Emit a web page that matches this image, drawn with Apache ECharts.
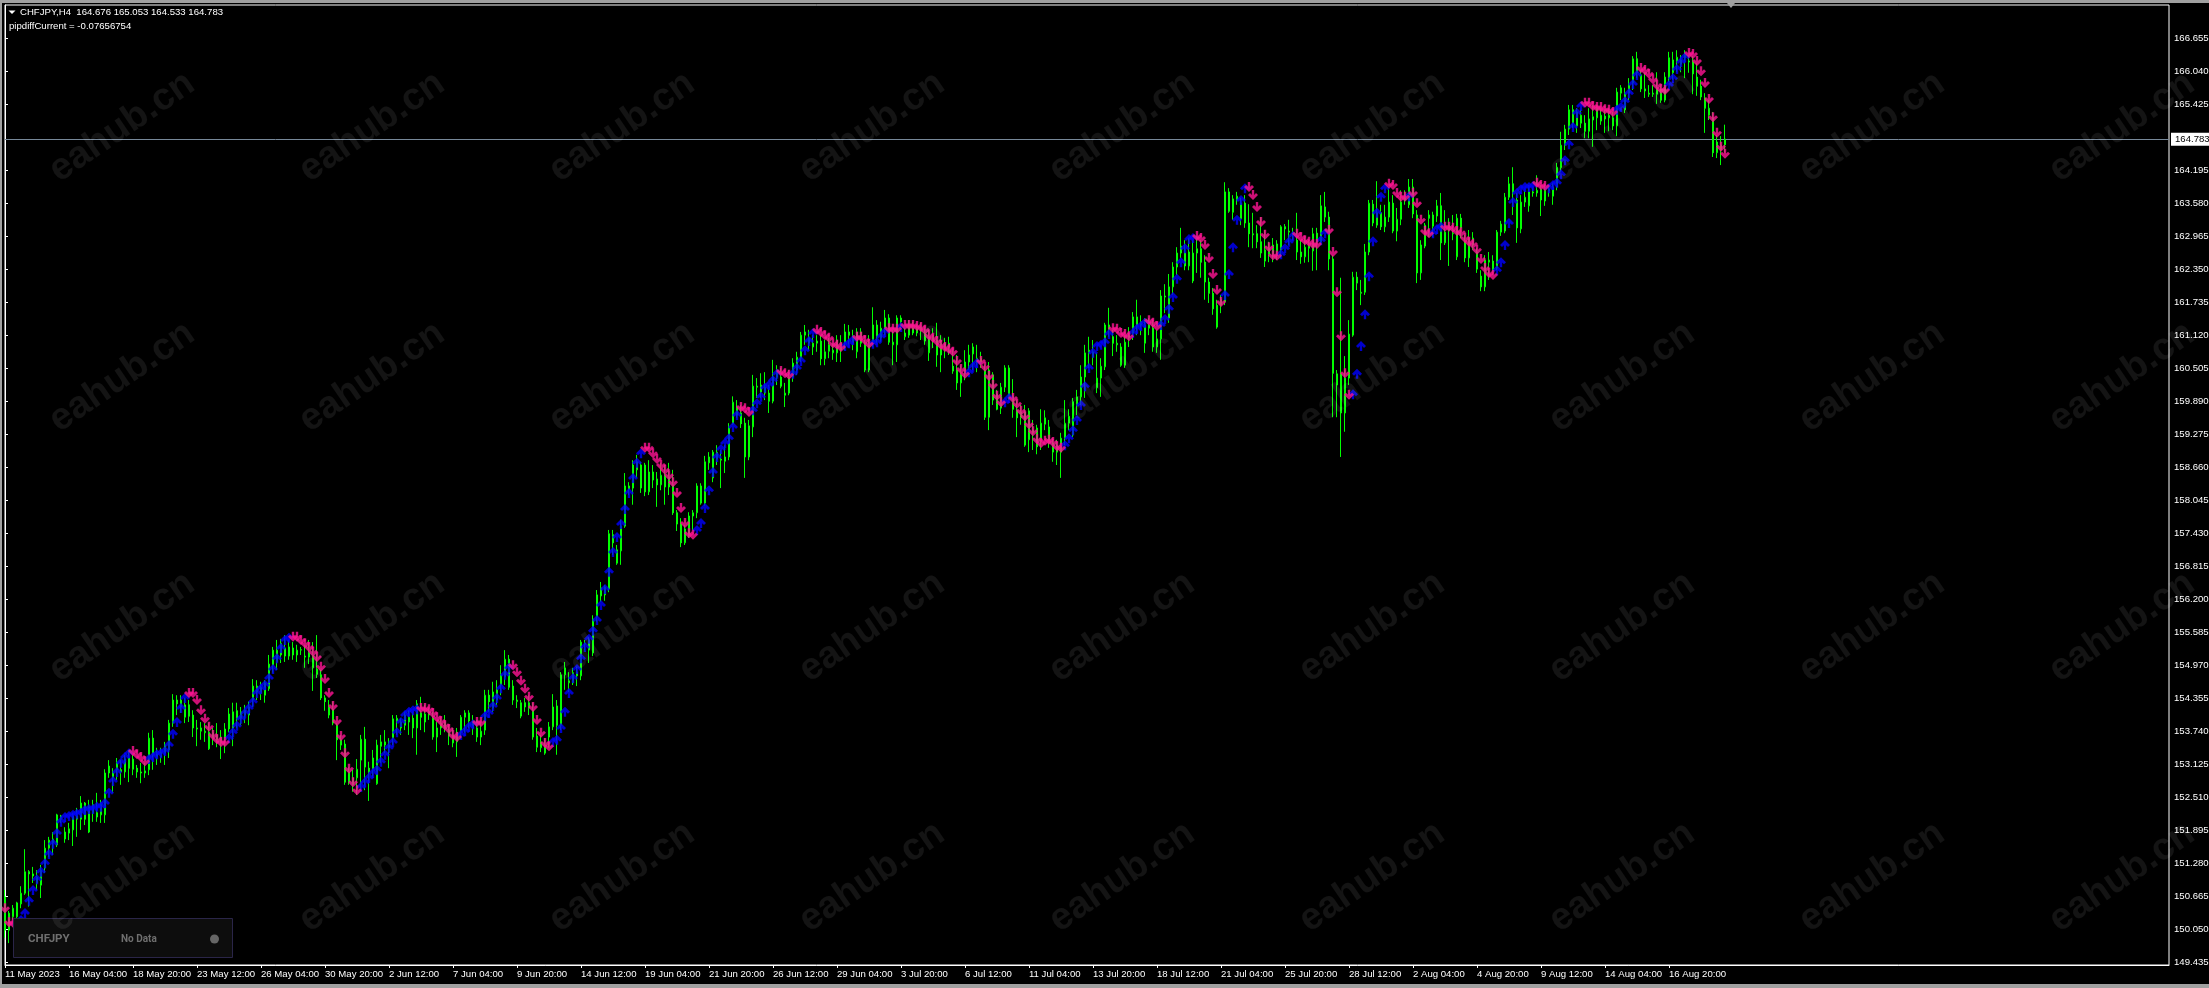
<!DOCTYPE html>
<html><head><meta charset="utf-8"><style>html,body{margin:0;padding:0;background:#000}#c{width:2209px;height:988px}</style>
<script src="https://cdn.jsdelivr.net/npm/echarts@6/dist/echarts.min.js"></script></head><body><div id="c"></div>
<script>
const headerLine = "CHFJPY,H4  164.676 165.053 164.533 164.783";
const indicatorLine = "pipdiffCurrent = -0.07656754";
const currentPrice = 164.783;
const priceTicks = [166.655,166.040,165.425,164.195,163.580,162.965,162.350,161.735,161.120,160.505,159.890,159.275,158.660,158.045,157.430,156.815,156.200,155.585,154.970,154.355,153.740,153.125,152.510,151.895,151.280,150.665,150.050,149.435];
const timeLabels = ["11 May 2023","16 May 04:00","18 May 20:00","23 May 12:00","26 May 04:00","30 May 20:00","2 Jun 12:00","7 Jun 04:00","9 Jun 20:00","14 Jun 12:00","19 Jun 04:00","21 Jun 20:00","26 Jun 12:00","29 Jun 04:00","3 Jul 20:00","6 Jul 12:00","11 Jul 04:00","13 Jul 20:00","18 Jul 12:00","21 Jul 04:00","25 Jul 20:00","28 Jul 12:00","2 Aug 04:00","4 Aug 20:00","9 Aug 12:00","14 Aug 04:00","16 Aug 20:00"];
// rows: open, close, low, high
const barsMay = [
[150.66,150.04,149.90,150.79],[150.04,150.36,149.80,150.40],[150.29,150.45,150.23,150.51],[150.29,150.55,150.18,150.57],[150.53,150.73,150.45,150.86],
[150.73,151.13,150.70,151.55],[151.13,151.09,150.48,151.16],[151.05,151.09,150.92,151.22],[150.92,151.03,150.79,151.16],[150.88,151.16,150.64,151.26],
[151.20,151.57,151.11,151.72],[151.57,151.72,151.40,151.78],[151.67,151.74,151.44,151.87],[151.63,152.19,151.59,152.21],[152.17,152.11,152.04,152.19],
[151.74,151.87,151.67,151.96],[151.85,151.93,151.72,152.04],[151.91,152.17,151.61,152.23],[152.11,152.17,151.78,152.32],[152.11,152.41,151.91,152.54],
[152.41,152.11,152.00,152.43],[151.87,152.34,151.85,152.47],[152.23,152.38,152.06,152.47],[152.23,152.15,152.06,152.60],[152.19,152.39,152.04,152.47],
[152.19,152.97,152.04,153.04],[152.97,153.10,152.88,153.21],[152.97,152.88,152.60,153.06],[153.03,153.16,152.84,153.25],[153.03,152.99,152.75,153.21],
[152.99,153.23,152.88,153.31],[153.25,153.06,152.80,153.40],[153.04,153.23,152.93,153.31],[153.06,152.99,152.88,153.12],[152.99,152.97,152.78,153.16],
[152.97,153.01,152.88,153.16],[153.03,153.62,152.93,153.72],[153.62,153.31,153.03,153.77],[153.27,153.34,153.12,153.44],[153.27,153.36,153.16,153.44],
[153.34,153.49,153.12,153.55],[153.40,153.90,153.25,153.96],[153.90,154.33,153.83,154.44],[154.33,154.26,154.05,154.42],[154.20,154.33,154.09,154.42],
[154.01,154.24,153.90,154.37],[154.24,154.03,153.92,154.33],[154.05,153.81,153.64,154.14],[153.81,153.79,153.47,153.96],[153.75,153.81,153.59,153.92],
[153.72,153.75,153.55,153.90],[153.42,153.73,153.40,153.90],[153.62,153.72,153.49,153.81],[153.59,153.68,153.45,153.90],[153.53,153.64,153.23,153.77],
[153.64,153.79,153.34,153.90],[153.79,154.07,153.73,154.18],[153.81,154.11,153.47,154.28],[154.13,153.99,153.81,154.28],[153.99,154.11,153.86,154.20],
[154.05,154.14,153.90,154.24],[154.05,154.20,153.86,154.30],[154.33,154.59,154.20,154.72],[154.48,154.59,154.33,154.70],[154.46,154.57,154.33,154.67],
[154.42,154.65,154.28,154.70],[154.54,155.00,154.50,155.17],[154.98,155.26,154.84,155.32],[155.04,155.26,154.89,155.45],[155.17,155.39,155.02,155.47],
[155.30,155.15,155.04,155.54],[155.15,155.32,155.08,155.45],[155.30,155.17,155.08,155.41],[155.17,155.26,155.04,155.36],[155.26,155.27,155.17,155.32],
[155.15,155.13,154.93,155.36],[155.13,155.21,155.00,155.45],[154.93,155.17,154.50,155.41],[154.91,154.81,154.74,155.54],[154.80,154.37,154.33,154.89]];
const barsJune = [
[154.37,154.30,154.13,154.42],[154.05,154.20,153.99,154.33],[154.16,153.90,153.86,154.30],[153.86,153.59,153.21,153.90],[153.59,153.49,153.40,153.68],
[153.51,152.80,152.75,153.59],[152.80,152.99,152.75,153.08],[152.75,152.88,152.62,153.03],[152.88,153.04,152.56,153.23],[153.21,153.60,152.65,153.68],
[153.60,153.08,152.65,153.83],[153.06,152.99,152.45,153.18],[153.03,153.25,152.88,153.40],[152.77,153.49,152.75,153.59],[153.55,153.47,153.16,153.68],
[153.49,153.55,153.34,153.77],[153.49,153.45,153.06,153.62],[153.62,153.98,153.49,154.05],[153.94,153.99,153.68,154.05],[153.81,153.92,153.68,153.99],
[153.86,154.05,153.77,154.11],[153.92,154.01,153.68,154.14],[153.99,153.81,153.62,154.11],[153.81,154.26,153.31,154.33],[154.09,154.01,153.77,154.39],
[153.92,154.07,153.73,154.24],[154.05,154.11,153.96,154.18],[153.99,153.64,153.59,154.11],[153.64,153.81,153.36,153.92],[153.81,153.90,153.68,153.99],
[153.81,153.92,153.73,154.05],[153.66,153.77,153.49,153.86],[153.53,153.68,153.45,153.81],[153.55,153.73,153.27,153.81],[153.73,154.01,153.62,154.05],
[154.01,154.09,153.72,154.14],[154.09,153.94,153.81,154.14],[153.81,153.92,153.68,154.05],[153.81,153.64,153.55,153.96],[153.64,153.75,153.49,153.92],
[153.77,154.42,153.68,154.52],[154.42,154.30,154.11,154.52],[154.18,154.48,154.11,154.67],[154.33,154.52,154.24,154.70],[154.61,154.80,154.42,154.98],
[154.76,155.09,154.61,155.26],[155.09,154.57,154.52,155.17],[154.59,154.33,154.24,154.70],[154.30,154.33,154.18,154.42],[154.03,154.28,153.99,154.33],
[154.28,154.20,154.11,154.37],[154.18,154.28,154.05,154.42],[154.14,153.64,153.59,154.28],[153.45,153.66,153.36,153.81],[153.44,153.55,153.36,153.68],
[153.34,153.49,153.31,153.62],[153.64,153.83,153.44,153.92],[153.83,154.20,153.77,154.44],[154.22,153.86,153.31,154.33],[153.86,154.80,153.77,154.85],
[154.80,154.93,154.52,155.04],[154.65,154.69,154.48,154.85],[154.65,154.84,154.61,154.93],[154.78,154.85,154.59,154.95],[154.78,155.41,154.70,155.45],
[155.37,155.39,155.26,155.45],[155.26,155.45,155.02,155.51],[155.84,155.21,155.15,155.91],[155.88,156.29,155.79,156.38],[156.27,156.42,156.16,156.53],
[156.29,156.44,156.18,156.47],[156.40,157.43,156.34,157.50],[157.41,157.26,157.03,157.50],[156.88,157.13,156.85,157.22],[157.11,157.57,156.85,157.69],
[157.57,158.32,157.54,158.56],[158.32,158.26,158.15,158.39],[158.28,158.71,157.97,158.80],[158.62,158.77,158.47,158.90],[158.28,158.71,158.19,158.77],
[158.71,158.21,158.13,158.75],[158.21,158.58,158.15,158.80],[158.58,158.43,158.28,158.71],[158.45,158.34,157.93,158.58],[158.34,158.52,158.24,158.75],
[158.30,158.52,157.97,158.71],[158.30,158.49,158.15,158.75],[158.34,157.82,157.78,158.62],[157.82,157.61,157.48,157.87],[157.61,157.26,157.18,157.72],
[157.26,157.52,157.22,157.59],[157.41,157.76,157.35,157.83],[157.76,157.82,157.50,157.87],[157.82,158.32,157.72,158.37],[158.32,158.00,157.97,158.37],
[158.00,158.77,157.95,158.88],[158.75,158.86,158.62,158.95],[158.47,158.95,158.39,158.99],[158.95,158.82,158.71,159.08],[158.80,158.82,158.28,158.99],
[158.78,158.86,158.56,159.08],[158.86,159.40,158.80,159.49],[159.48,159.88,159.46,159.99],[159.64,159.79,159.59,159.92],[159.68,159.48,159.40,159.83],
[159.49,158.86,158.47,159.59],[158.86,159.44,158.80,159.55],[159.42,160.18,159.23,160.39],[160.16,160.18,159.96,160.33],[160.07,160.20,159.96,160.42]];
const barsJuly = [
[160.05,160.16,159.92,160.44],[160.05,159.90,159.68,160.20],[159.90,160.35,159.86,160.67],[160.35,160.48,160.20,160.57],[160.35,160.18,160.14,160.52],
[160.01,160.05,159.79,160.24],[160.05,160.35,160.01,160.48],[160.35,160.61,160.26,160.70],[160.48,160.72,160.39,160.82],[160.70,161.13,160.63,161.19],
[161.13,161.19,160.95,161.32],[160.98,161.08,160.85,161.23],[160.91,160.98,160.76,161.13],[160.98,161.02,160.82,161.13],[161.02,160.69,160.57,161.13],
[160.69,160.82,160.57,161.04],[160.83,160.95,160.70,161.08],[160.80,160.85,160.67,160.98],[160.80,161.04,160.63,161.13],[160.85,160.98,160.63,161.13],
[160.98,161.19,160.85,161.34],[161.19,161.13,160.95,161.32],[160.98,161.11,160.85,161.23],[160.82,161.19,160.70,161.26],[160.98,161.19,160.91,161.26],
[160.95,160.48,160.44,161.04],[160.48,160.95,160.44,161.13],[160.98,161.32,160.91,161.65],[161.32,161.10,160.98,161.41],[161.08,161.26,161.00,161.38],
[161.26,161.45,161.13,161.60],[161.45,161.00,160.95,161.52],[160.95,161.00,160.57,161.23],[160.95,161.45,160.63,161.50],[161.45,161.38,161.26,161.50],
[161.10,161.17,161.04,161.26],[161.13,161.32,161.08,161.41],[161.17,161.26,161.13,161.38],[161.17,161.25,161.11,161.32],[161.21,161.28,161.04,161.36],
[161.17,161.02,160.95,161.26],[160.80,161.10,160.65,161.23],[161.04,161.13,160.89,161.26],[161.04,160.76,160.54,161.36],[160.76,160.98,160.44,161.13],
[160.85,160.98,160.70,161.08],[160.98,160.91,160.76,161.10],[160.55,160.46,160.41,160.85],[160.48,160.24,160.11,160.76],[160.24,160.39,159.98,160.57],
[160.42,160.63,160.29,160.85],[160.63,160.76,160.48,160.95],[160.78,160.91,160.48,160.98],[160.63,160.70,160.44,160.95],[160.63,160.70,160.52,160.82],
[160.48,159.60,159.55,160.57],[159.60,160.48,159.36,160.63],[160.39,159.92,159.83,160.44],[160.03,159.75,159.73,160.11],[159.77,160.16,159.66,160.24],
[160.16,160.52,160.07,160.57],[160.52,160.00,159.92,160.57],[159.98,159.75,159.59,160.31],[159.73,159.59,159.23,159.92],[159.59,159.70,159.46,159.83],
[159.08,159.70,159.05,159.83],[159.18,159.72,158.95,159.77],[159.31,159.36,158.99,159.55],[159.40,159.05,158.91,159.46],[159.18,159.49,158.99,159.75],
[159.47,159.59,159.36,159.73],[159.42,159.12,159.03,159.55],[158.95,159.12,158.77,159.21],[158.95,159.08,158.71,159.18],[158.95,159.21,158.47,159.31],
[159.21,159.49,159.08,159.92],[159.49,159.62,159.36,159.75],[159.27,159.89,159.23,159.96],[159.83,159.98,159.64,160.11],[159.98,160.35,159.83,160.57],
[160.35,160.80,159.96,160.95],[160.80,160.85,160.52,161.10],[160.72,160.82,160.57,161.04],[160.15,160.33,160.05,160.80],[160.33,160.55,159.98,160.70],
[160.54,161.32,160.48,161.36],[161.32,161.25,161.10,161.64],[161.10,160.98,160.74,161.23],[160.95,160.98,160.82,161.13],[160.91,160.57,160.54,160.98],
[160.57,161.00,160.52,161.13],[161.08,161.13,160.91,161.28],[161.17,161.47,161.04,161.56],[161.47,161.30,161.13,161.79],[161.32,161.38,161.13,161.50],
[160.98,161.32,160.80,161.45],[161.26,161.32,161.13,161.45],[161.26,160.91,160.82,161.41],[160.91,161.06,160.80,161.23],[161.06,161.86,160.67,161.97],
[161.84,161.86,161.54,162.08],[161.45,162.03,161.36,162.27],[162.03,162.40,161.88,162.49],[162.40,162.66,162.25,162.77],[162.66,162.79,162.57,163.13],
[162.66,162.42,162.34,162.90],[162.42,162.68,162.34,162.94],[162.14,162.66,162.10,162.90],[162.66,162.74,162.29,162.98],[162.74,162.49,162.20,162.90]];
const barsLateJuly = [
[162.49,162.12,161.79,162.62],[162.12,161.91,161.73,162.20],[161.91,161.62,161.51,162.01],[161.28,161.69,161.25,161.79],[161.69,161.79,161.54,161.88],
[161.75,163.80,161.69,163.98],[163.80,163.44,163.41,163.87],[163.42,163.67,163.28,163.74],[163.65,163.72,163.56,163.80],[163.30,163.59,163.18,163.69],
[163.59,163.22,163.13,163.74],[163.22,163.02,162.77,163.57],[163.00,163.02,162.75,163.41],[163.02,162.87,162.75,163.18],[162.87,162.66,162.57,163.33],
[162.51,162.72,162.40,163.09],[162.64,162.75,162.49,162.87],[162.64,162.81,162.49,162.94],[162.70,162.83,162.53,162.90],[162.72,163.15,162.57,163.18],
[163.15,163.11,162.90,163.20],[163.05,163.07,162.81,163.28],[163.03,163.03,162.90,163.13],[162.90,162.68,162.53,163.41],[162.68,162.59,162.46,162.90],
[162.59,162.77,162.48,162.94],[162.75,162.79,162.49,162.90],[162.70,163.02,162.33,163.13],[163.03,162.87,162.34,163.13],[162.87,163.54,162.81,163.74],
[163.52,163.33,163.24,163.80],[163.33,162.55,162.34,163.43],[162.55,160.42,159.60,162.62],[160.20,160.41,159.60,160.48],[160.41,159.68,158.86,162.20],
[159.68,160.33,159.33,160.74],[160.33,161.15,160.20,161.41],[161.13,162.21,161.10,162.31],[162.21,162.10,161.97,162.31],[161.91,161.93,161.69,162.16],
[161.93,162.68,161.88,162.83],[162.68,163.59,162.62,163.65],[163.57,163.22,163.16,163.65],[163.18,163.41,163.13,164.00],[163.41,163.15,163.09,163.56],
[163.15,163.33,163.05,163.56],[163.33,163.61,163.24,163.89],[163.59,163.07,163.03,163.74],[163.07,163.29,162.88,163.50],[163.29,163.61,163.18,163.83],
[163.65,163.71,163.56,163.83],[163.56,163.89,163.50,164.04],[163.89,163.39,163.31,164.04],[163.37,162.29,162.10,163.46],[162.29,162.81,162.16,162.90],
[162.79,163.18,162.75,163.22],[163.37,163.31,162.96,163.46],[163.16,163.37,162.96,163.43],[163.35,163.54,163.24,163.65],[163.54,162.85,162.53,163.78],
[162.85,163.05,162.81,163.46],[163.09,163.18,162.42,163.31],[163.02,163.03,162.90,163.37],[162.59,163.31,162.53,163.39],[163.31,163.13,162.94,163.39],
[162.87,162.57,162.49,163.00],[162.57,162.94,162.40,163.09],[162.81,162.94,162.72,163.05],[162.36,162.68,162.29,162.75],[162.23,162.03,161.95,162.34],
[162.03,162.53,161.95,162.62],[162.49,162.53,162.16,162.68],[162.51,162.34,162.25,162.62],[162.38,163.05,162.34,163.09],[163.05,163.20,162.98,163.26],
[163.07,163.70,163.03,163.78],[163.70,163.95,163.65,164.08],[163.95,163.80,163.37,164.26],[163.65,163.13,162.85,163.78],[163.11,163.61,163.03,163.74],
[163.61,163.70,163.52,163.83],[163.54,163.80,163.43,163.93],[163.78,163.80,163.71,163.87],[163.78,163.83,163.71,164.11],[163.85,163.65,163.35,163.93],
[163.63,163.83,163.54,163.93],[163.82,163.85,163.71,163.89],[163.72,163.89,163.56,163.97],[163.89,164.26,163.83,164.34],[164.25,164.67,164.17,164.92],
[164.67,164.97,164.58,165.05],[164.97,165.33,164.86,165.42],[165.33,165.08,164.99,165.42],[165.03,165.29,164.90,165.36],[165.08,165.23,164.99,165.33],
[165.08,164.93,164.80,165.23],[164.93,165.16,164.80,165.36],[165.14,165.20,164.64,165.42],[165.18,165.36,164.95,165.42],[165.12,165.23,165.05,165.36],
[165.21,165.16,164.90,165.33],[165.18,165.23,164.93,165.36],[165.18,165.03,164.95,165.29],[165.03,165.66,164.84,165.74],[165.64,165.74,165.51,165.79],
[165.33,165.64,165.27,165.74],[165.64,165.79,165.51,165.92],[165.83,166.28,165.70,166.33],[166.28,166.02,165.92,166.41],[165.98,165.72,165.66,166.07],
[165.68,165.72,165.55,166.03],[165.62,165.64,165.57,165.79],[165.62,165.64,165.57,165.79],[165.62,165.74,165.44,166.03],[165.64,165.51,165.46,165.79],
[165.51,165.94,165.47,166.03],[165.92,166.30,165.85,166.41],[166.02,166.26,165.89,166.41],[166.24,166.31,166.03,166.44],[166.18,166.26,166.03,166.35],
[166.30,166.35,165.92,166.44],[166.22,166.24,166.02,166.35],[166.22,166.00,165.62,166.33],[165.94,165.77,165.59,166.20],[165.77,165.57,165.51,165.89],
[165.55,165.36,164.90,165.64],[165.23,165.36,165.14,165.51],[165.18,164.53,164.45,165.29],[164.53,164.73,164.43,164.86],[164.58,164.67,164.30,164.84],
[164.676,164.783,164.533,165.053]];
const trailLevels = [
150.45,150.19,150.18,150.14,150.23,150.36,150.59,150.79,150.99,151.13,
151.29,151.46,151.65,151.85,152.06,152.15,152.17,152.19,152.21,152.23,
152.28,152.30,152.30,152.34,152.34,152.41,152.60,152.82,152.99,153.16,
153.27,153.34,153.38,153.32,153.27,153.19,153.23,153.27,153.32,153.34,
153.38,153.49,153.70,153.92,154.18,154.37,154.46,154.46,154.33,154.14,
153.98,153.83,153.68,153.60,153.55,153.55,153.62,153.73,153.85,153.98,
154.09,154.18,154.30,154.46,154.54,154.61,154.74,154.91,155.11,155.30,
155.45,155.49,155.51,155.51,155.45,155.39,155.32,155.23,155.13,154.95,
154.72,154.46,154.22,153.94,153.66,153.34,153.05,152.80,152.65,152.71,
152.80,152.88,152.97,153.03,153.18,153.31,153.44,153.55,153.73,153.92,
154.05,154.11,154.14,154.16,154.18,154.18,154.16,154.09,154.01,153.94,
153.86,153.79,153.68,153.64,153.68,153.75,153.83,153.88,153.92,153.92,
154.03,154.09,154.22,154.37,154.55,154.80,154.93,154.98,154.85,154.69,
154.54,154.39,154.20,153.96,153.72,153.53,153.47,153.55,153.59,153.81,
154.11,154.46,154.74,154.91,155.11,155.32,155.47,155.62,155.82,156.10,
156.40,156.72,157.09,157.37,157.61,157.89,158.19,158.47,158.75,158.93,
159.03,159.03,158.93,158.82,158.71,158.62,158.52,158.39,158.19,157.91,
157.63,157.44,157.41,157.50,157.63,157.91,158.24,158.58,158.86,159.01,
159.12,159.21,159.42,159.64,159.79,159.77,159.70,159.73,159.86,159.98,
160.15,160.20,160.29,160.41,160.46,160.42,160.39,160.41,160.52,160.65,
160.85,161.02,161.17,161.23,161.19,161.13,161.08,160.98,160.95,160.91,
160.93,160.98,161.04,161.10,161.10,161.04,160.97,160.97,161.00,161.10,
161.19,161.26,161.25,161.25,161.28,161.32,161.32,161.32,161.30,161.28,
161.23,161.13,161.08,161.02,160.95,160.91,160.87,160.82,160.65,160.50,
160.41,160.44,160.54,160.61,160.65,160.54,160.37,160.20,160.00,159.88,
159.88,159.96,159.96,159.85,159.72,159.62,159.47,159.34,159.19,159.12,
159.16,159.18,159.14,159.06,159.03,159.08,159.21,159.36,159.55,159.83,
160.18,160.52,160.80,160.93,160.95,161.00,161.15,161.26,161.25,161.17,
161.15,161.11,161.17,161.25,161.30,161.36,161.41,161.36,161.30,161.32,
161.43,161.62,161.84,162.18,162.49,162.75,162.92,162.94,162.98,162.94,
162.81,162.57,162.27,161.97,161.75,161.88,162.27,162.77,163.28,163.65,
163.87,163.89,163.74,163.52,163.24,163.00,162.77,162.62,162.61,162.64,
162.75,162.87,162.98,163.02,162.96,162.90,162.87,162.83,162.83,162.90,
163.03,163.09,162.68,161.93,161.11,160.42,160.02,160.03,160.41,160.93,
161.52,162.23,162.88,163.41,163.71,163.87,163.95,163.93,163.78,163.71,
163.71,163.72,163.78,163.59,163.28,163.07,163.03,163.03,163.11,163.15,
163.15,163.15,163.13,163.07,163.05,162.94,162.87,162.83,162.72,162.55,
162.38,162.29,162.25,162.34,162.49,162.81,163.22,163.61,163.78,163.85,
163.89,163.89,163.91,163.97,163.93,163.91,163.87,163.93,163.97,164.13,
164.39,164.69,165.01,165.27,165.40,165.46,165.46,165.40,165.38,165.38,
165.34,165.33,165.29,165.33,165.38,165.49,165.64,165.81,165.98,166.11,
166.07,166.00,165.90,165.79,165.72,165.70,165.79,165.92,166.09,166.22,
166.31,166.39,166.37,166.24,166.05,165.83,165.53,165.19,164.90,164.64,
164.51];
// bar ranges where the trail arrow points down (all other bars point up)
const downRuns = [[0,2],[32,35],[46,55],[72,88],[104,113],[118,119],[127,136],[160,172],[184,186],[194,196],[203,209],[213,216],[221,223],[225,240],[244,249],[252,264],[277,281],[286,288],[298,304],[311,318],[323,328],[331,336],[346,350],[352,356],[360,372],[383,385],[395,402],[409,415],[421,430]];

const bars = [...barsMay, ...barsJune, ...barsJuly, ...barsLateJuly];
const isDown = i => downRuns.some(r => i >= r[0] && i <= r[1]);
const candleRows = bars.map((b, i) => [i, ...b]);
const upPoints = [], downPoints = [];
trailLevels.forEach((p, i) => (isDown(i) ? downPoints : upPoints).push([i, p]));

const ui = "'Liberation Sans',sans-serif";
const uiSize = 9.6;
const upArrow = "path://M5 0L10 5L8 7L6.2 5.2L6.2 10L3.8 10L3.8 5.2L2 7L0 5Z";
const downArrow = "path://M5 10L10 5L8 3L6.2 4.8L6.2 0L3.8 0L3.8 4.8L2 3L0 5Z";

const chrome = [];
const wmCols = [122,372,622,872,1122,1372,1622,1872,2122], wmRows = [127,377,627,877];
wmRows.forEach(y => wmCols.forEach(x => chrome.push({type:'text',x,y,rotation:0.6,z:90,silent:true,
  style:{text:'eahub.cn',font:"bold 38px 'Liberation Sans',sans-serif",fill:'rgba(255,255,255,0.08)',align:'center',verticalAlign:'middle'}})));
chrome.push(
 {type:'rect',shape:{x:0,y:0,width:2209,height:3},style:{fill:'#a0a0a0'},z:80,silent:true},
 {type:'rect',shape:{x:0,y:0,width:2,height:988},style:{fill:'#a0a0a0'},z:80,silent:true},
 {type:'rect',shape:{x:0,y:984,width:2209,height:4},style:{fill:'#a0a0a0'},z:80,silent:true},
 {type:'polygon',shape:{points:[[1727,3],[1735,3],[1731,8]]},style:{fill:'#a0a0a0'},z:80,silent:true},
 {type:'polygon',shape:{points:[[8.5,10.5],[15.5,10.5],[12,14]]},style:{fill:'#fff'},z:80,silent:true},
 {type:'text',x:20,y:12.5,z:95,silent:true,style:{text:headerLine,font:uiSize+"px "+ui,fill:'#fff',verticalAlign:'middle'}},
 {type:'text',x:9,y:26,z:95,silent:true,style:{text:indicatorLine,font:uiSize+"px "+ui,fill:'#fff',verticalAlign:'middle'}},
 {type:'rect',shape:{x:13.5,y:918.5,width:219,height:39},style:{fill:'#0d0d0d',stroke:'#2a2548',lineWidth:1},z:85,silent:true},
 {type:'text',x:28,y:939,z:86,silent:true,style:{text:'CHFJPY',font:"bold 11.5px 'Roboto',sans-serif",fill:'#6f6f6f',verticalAlign:'middle'}},
 {type:'text',x:121,y:939,z:86,silent:true,style:{text:'No Data',font:"bold 10px 'Roboto',sans-serif",fill:'#6f6f6f',verticalAlign:'middle'}},
 {type:'circle',shape:{cx:214.5,cy:939,r:4.5},style:{fill:'#666'},z:86,silent:true}
);

const chart = echarts.init(document.getElementById('c'), null, {renderer:'canvas'});
chart.setOption({
 animation:false, backgroundColor:'#000', graphic:{elements:chrome},
 grid:{left:5,top:5,width:2164,height:960,show:true,borderColor:'#fff',borderWidth:1,backgroundColor:'transparent',containLabel:false,outerBoundsMode:'none'},
 xAxis:{type:'value',min:0,max:541,splitLine:{show:false},axisLine:{lineStyle:{color:'#fff'}},
  axisTick:{length:3,lineStyle:{color:'#fff'},customValues:timeLabels.map((_,k)=>k*16)},
  axisLabel:{customValues:timeLabels.map((_,k)=>k*16),formatter:v=>timeLabels[v/16],align:'left',margin:4,color:'#fff',fontFamily:ui,fontSize:uiSize,hideOverlap:false}},
 yAxis:{type:'value',position:'right',min:149.392,max:167.283,scale:true,splitLine:{show:false},axisLine:{show:true,lineStyle:{color:'#fff'}},
  axisTick:{show:true,length:3,lineStyle:{color:'#fff'},customValues:priceTicks},
  axisLabel:{customValues:priceTicks,formatter:v=>v.toFixed(3),margin:5,color:'#fff',fontFamily:ui,fontSize:uiSize,hideOverlap:false}},
 series:[
  {type:'candlestick',data:candleRows,encode:{x:0,y:[1,2,3,4]},barWidth:2,z:3,silent:true,progressive:0,
   itemStyle:{color:'#000',color0:'#fff',borderColor:'#00ff00',borderColor0:'#00ff00',borderColorDoji:'#00ff00',borderWidth:1},
   markLine:{silent:true,symbol:'none',animation:false,z:2,data:[{yAxis:currentPrice}],lineStyle:{color:'#778899',width:1,type:'solid'},
    label:{position:'end',distance:2,formatter:()=>currentPrice.toFixed(3),color:'#000',backgroundColor:'#fff',padding:[2,2,1,4],fontFamily:ui,fontSize:uiSize}}},
  {type:'scatter',data:upPoints,symbol:upArrow,symbolSize:[10,10],z:4,silent:true,itemStyle:{color:'#0000ff'}},
  {type:'scatter',data:downPoints,symbol:downArrow,symbolSize:[10,10],z:5,silent:true,itemStyle:{color:'#ff1493'}}
 ]
});
</script></body></html>
